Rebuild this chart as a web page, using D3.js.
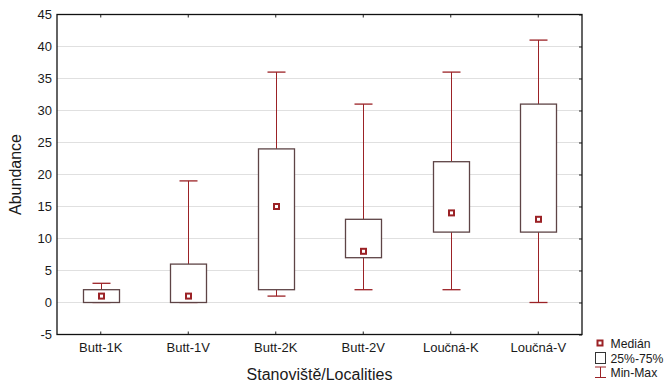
<!DOCTYPE html>
<html>
<head>
<meta charset="utf-8">
<script src="https://cdn.jsdelivr.net/npm/d3@7"></script>
<style>
  body { margin: 0; background: #fff; }
  text { font-family: "Liberation Sans", Arial, sans-serif; fill: #1a1a1a; }
</style>
</head>
<body>
<svg id="chart" width="664" height="383"></svg>
<script>
const categories = ['Butt-1K', 'Butt-1V', 'Butt-2K', 'Butt-2V', 'Loučná-K', 'Loučná-V'];
const mins    = [0, 0, 1, 2, 2, 0];
const q1s     = [0, 0, 2, 7, 11, 11];
const medians = [1, 1, 15, 8, 14, 13];
const q3s     = [2, 6, 24, 13, 22, 31];
const maxs    = [3, 19, 36, 31, 36, 41];
const yTicks  = [-5, 0, 5, 10, 15, 20, 25, 30, 35, 40, 45];
const legendLabels = ['Medián', '25%-75%', 'Min-Max'];

const data = categories.map((c, i) => ({
  cat: c, min: mins[i], q1: q1s[i], med: medians[i], q3: q3s[i], max: maxs[i]
}));

const plotL = 57, plotR = 582, plotT = 14.5, plotB = 334.5;
const whiskerColor = '#9b2226';
const boxColor = '#5e4446';

const svg = d3.select('#chart');

const x = d3.scaleBand().domain(categories).range([plotL, plotR]).padding(0);
const y = d3.scaleLinear().domain([-5, 45]).range([plotB, plotT]);

// grid
svg.append('g')
  .selectAll('line')
  .data(yTicks.slice(1, -1))
  .enter()
  .append('line')
  .attr('x1', plotL).attr('x2', plotR)
  .attr('y1', d => y(d)).attr('y2', d => y(d))
  .attr('stroke', '#e0e0e0')
  .attr('stroke-width', 1);

// axes: ticks pointing inward
const axisL = d3.axisLeft(y).tickValues(yTicks).tickSize(0).tickPadding(5).tickFormat(d => String(d));
const gl = svg.append('g').attr('transform', `translate(${plotL},0)`).call(axisL);
const axisR = d3.axisLeft(y).tickValues(yTicks).tickSize(3).tickFormat('');
const gr = svg.append('g').attr('transform', `translate(${plotR},0)`).call(axisR);
const axisB = d3.axisTop(x).tickSize(3).tickFormat('');
const gb = svg.append('g').attr('transform', `translate(0,${plotB})`).call(axisB);
const axisT = d3.axisBottom(x).tickSize(3).tickFormat('');
const gt = svg.append('g').attr('transform', `translate(0,${plotT})`).call(axisT);

[gl, gr, gb, gt].forEach(g => {
  g.select('.domain').remove();
  g.selectAll('line').attr('stroke', '#222');
});
gl.selectAll('text').attr('font-size', 13).attr('fill', '#1a1a1a');

// frame
svg.append('rect')
  .attr('x', plotL).attr('y', plotT)
  .attr('width', plotR - plotL).attr('height', plotB - plotT)
  .attr('fill', 'none').attr('stroke', '#111').attr('stroke-width', 1.3);

// category labels
svg.append('g')
  .selectAll('text')
  .data(categories)
  .enter()
  .append('text')
  .attr('x', d => x(d) + x.bandwidth() / 2)
  .attr('y', 352)
  .attr('text-anchor', 'middle')
  .attr('font-size', 13)
  .text(d => d);

const boxW = 36, capW = 18;
const g = svg.append('g');
const cx = d => Math.round(x(d.cat) + x.bandwidth() / 2) + 0.5;

// whiskers
g.selectAll('.whisk-up').data(data).enter().append('line')
  .attr('x1', cx).attr('x2', cx)
  .attr('y1', d => y(d.q3)).attr('y2', d => y(d.max))
  .attr('stroke', whiskerColor).attr('stroke-width', 1);
g.selectAll('.whisk-dn').data(data).enter().append('line')
  .attr('x1', cx).attr('x2', cx)
  .attr('y1', d => y(d.q1)).attr('y2', d => y(d.min))
  .attr('stroke', whiskerColor).attr('stroke-width', 1);
g.selectAll('.cap-max').data(data).enter().append('line')
  .attr('x1', d => cx(d) - capW / 2).attr('x2', d => cx(d) + capW / 2)
  .attr('y1', d => y(d.max)).attr('y2', d => y(d.max))
  .attr('stroke', whiskerColor).attr('stroke-width', 1.3);
g.selectAll('.cap-min').data(data).enter().append('line')
  .attr('x1', d => cx(d) - capW / 2).attr('x2', d => cx(d) + capW / 2)
  .attr('y1', d => y(d.min)).attr('y2', d => y(d.min))
  .attr('stroke', whiskerColor).attr('stroke-width', 1.3);

// boxes
g.selectAll('rect.box').data(data).enter().append('rect')
  .attr('class', 'box')
  .attr('x', d => cx(d) - boxW / 2)
  .attr('y', d => y(d.q3))
  .attr('width', boxW)
  .attr('height', d => y(d.q1) - y(d.q3))
  .attr('fill', '#fff')
  .attr('stroke', boxColor).attr('stroke-width', 1.3);

// median markers
g.selectAll('rect.med').data(data).enter().append('rect')
  .attr('class', 'med')
  .attr('x', d => cx(d) - 2.5)
  .attr('y', d => y(d.med) - 2.5)
  .attr('width', 5).attr('height', 5)
  .attr('fill', '#fff')
  .attr('stroke', whiskerColor).attr('stroke-width', 2);

// axis titles
svg.append('text')
  .attr('transform', `translate(21,${(plotT + plotB) / 2}) rotate(-90)`)
  .attr('text-anchor', 'middle')
  .attr('font-size', 16)
  .text('Abundance');
svg.append('text')
  .attr('x', (plotL + plotR) / 2)
  .attr('y', 380)
  .attr('text-anchor', 'middle')
  .attr('font-size', 16)
  .text('Stanoviště/Localities');

// legend
const lg = svg.append('g').attr('transform', 'translate(600,0)');
const ly = [343, 358, 372];
lg.append('rect').attr('x', -2.5).attr('y', ly[0] - 2.5).attr('width', 5).attr('height', 5)
  .attr('fill', '#fff').attr('stroke', whiskerColor).attr('stroke-width', 2);
lg.append('rect').attr('x', -4.5).attr('y', ly[1] - 5.5).attr('width', 10).attr('height', 11)
  .attr('fill', '#fff').attr('stroke', '#333').attr('stroke-width', 1);
lg.append('line').attr('x1', 0.5).attr('x2', 0.5).attr('y1', ly[2] - 5).attr('y2', ly[2] + 5.5)
  .attr('stroke', whiskerColor).attr('stroke-width', 1);
lg.append('line').attr('x1', -5).attr('x2', 6).attr('y1', ly[2] - 5).attr('y2', ly[2] - 5)
  .attr('stroke', whiskerColor).attr('stroke-width', 1);
lg.append('line').attr('x1', -5).attr('x2', 6).attr('y1', ly[2] + 5.5).attr('y2', ly[2] + 5.5)
  .attr('stroke', whiskerColor).attr('stroke-width', 1);
lg.selectAll('text.leg').data(legendLabels).enter().append('text')
  .attr('class', 'leg')
  .attr('x', 10.5)
  .attr('y', (d, i) => ly[i] + 4.5)
  .attr('font-size', 12.2)
  .text(d => d);
</script>
</body>
</html>
